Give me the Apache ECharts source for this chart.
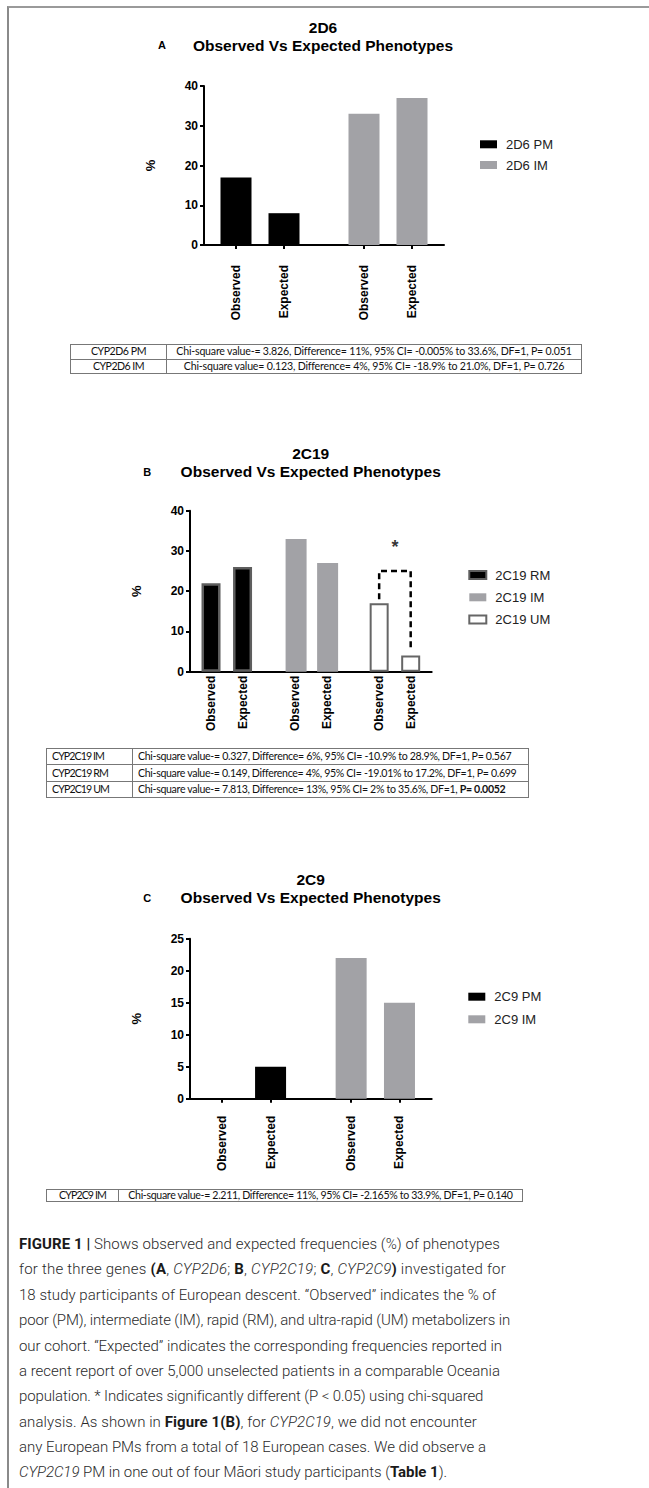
<!DOCTYPE html>
<html>
<head>
<meta charset="utf-8">
<script src="https://cdn.jsdelivr.net/npm/echarts@6/dist/echarts.min.js"></script>
<style>
  html, body { margin: 0; padding: 0; background: #fff; }
  #page { position: relative; width: 649px; height: 1488px; overflow: hidden; }
  #chart { position: absolute; left: 0; top: 0; width: 649px; height: 1230px; }
  #frame { position: absolute; left: 7px; top: 6px; width: 650px; height: 1490px;
           border-top: 2px solid #9a9a9a; border-left: 2px solid #8a8a8a; }
  table.stat { position: absolute; border-collapse: collapse; table-layout: fixed;
               font-family: Lato, "Open Sans", sans-serif; font-size: 10.6px; color: #111; }
  table.stat td { border: 1px solid #777; padding: 0; white-space: nowrap; line-height: 1; overflow: hidden; }
  #tA { left: 70px; top: 344px; width: 512px; }
  #tA td { height: 13.5px; text-align: center; }
  #tB { left: 46px; top: 748px; width: 483px; }
  #tB td { height: 15.3px; text-align: left; padding-left: 5px; }
  #tC { left: 46px; top: 1189px; width: 477px; }
  #tC td { height: 11px; text-align: center; }
  #caption { position: absolute; left: 19px; top: 1232px; width: 630px;
             font-family: Roboto, "Noto Sans", sans-serif; font-weight: 300; font-size: 15px;
             line-height: 25.37px; color: #2a2a2a; white-space: nowrap; }
  #caption b { font-weight: 700; color: #1a1a1a; }
</style>
</head>
<body>
<div id="page">
  <div id="frame"></div>
  <div id="chart"></div>

  <table class="stat" id="tA">
    <colgroup><col style="width:96px"><col></colgroup>
    <tr><td><span class="fit" data-w="55">CYP2D6 PM</span></td><td><span class="fit" data-w="395">Chi-square value-= 3.826, Difference= 11%, 95% CI= -0.005% to 33.6%, DF=1, P= 0.051</span></td></tr>
    <tr><td><span class="fit" data-w="51">CYP2D6 IM</span></td><td><span class="fit" data-w="380">Chi-square value= 0.123, Difference= 4%, 95% CI= -18.9% to 21.0%, DF=1, P= 0.726</span></td></tr>
  </table>

  <table class="stat" id="tB">
    <colgroup><col style="width:86px"><col></colgroup>
    <tr><td><span class="fit" data-w="52">CYP2C19 IM</span></td><td><span class="fit" data-w="373">Chi-square value-= 0.327, Difference= 6%, 95% CI= -10.9% to 28.9%, DF=1, P= 0.567</span></td></tr>
    <tr><td><span class="fit" data-w="56">CYP2C19 RM</span></td><td><span class="fit" data-w="378">Chi-square value-= 0.149, Difference= 4%, 95% CI= -19.01% to 17.2%, DF=1, P= 0.699</span></td></tr>
    <tr><td><span class="fit" data-w="57">CYP2C19 UM</span></td><td><span class="fit" data-w="367">Chi-square value-= 7.813, Difference= 13%, 95% CI= 2% to 35.6%, DF=1, <b>P= 0.0052</b></span></td></tr>
  </table>

  <table class="stat" id="tC">
    <colgroup><col style="width:72px"><col></colgroup>
    <tr><td><span class="fit" data-w="47">CYP2C9 IM</span></td><td><span class="fit" data-w="384">Chi-square value-= 2.211, Difference= 11%, 95% CI= -2.165% to 33.9%, DF=1, P= 0.140</span></td></tr>
  </table>

  <div id="caption"><span class="fit" data-w="481"><b>FIGURE 1 |</b> Shows observed and expected frequencies (%) of phenotypes</span><br><span class="fit" data-w="487">for the three genes <b>(A</b>, <i>CYP2D6</i>; <b>B</b>, <i>CYP2C19</i>; <b>C</b>, <i>CYP2C9</i><b>)</b> investigated for</span><br><span class="fit" data-w="477">18 study participants of European descent. “Observed” indicates the % of</span><br><span class="fit" data-w="491">poor (PM), intermediate (IM), rapid (RM), and ultra-rapid (UM) metabolizers in</span><br><span class="fit" data-w="483">our cohort. “Expected” indicates the corresponding frequencies reported in</span><br><span class="fit" data-w="481">a recent report of over 5,000 unselected patients in a comparable Oceania</span><br><span class="fit" data-w="464">population. * Indicates significantly different (P &lt; 0.05) using chi-squared</span><br><span class="fit" data-w="458">analysis. As shown in <b>Figure 1(B)</b>, for <i>CYP2C19</i>, we did not encounter</span><br><span class="fit" data-w="467">any European PMs from a total of 18 European cases. We did observe a</span><br><span class="fit" data-w="428"><i>CYP2C19</i> PM in one out of four Māori study participants (<b>Table 1</b>).</span></div>
</div>

<script>
// 数据
const tickNames = ['Observed', 'Expected', 'Observed', 'Expected'];
const tickNamesB = ['Observed', 'Expected', 'Observed', 'Expected', 'Observed', 'Expected'];
const slotsA = [0, 3, 8, 11];          // bar slots on the x scale
const slotsB = [0, 3, 8, 11, 16, 19];
const a_pm = [17, 8];
const a_im = [33, 37];
const b_rm = [22, 26];
const b_im = [33, 27];
const b_um = [17, 4];
const c_pm = [0, 5];
const c_im = [22, 15];
const bracketB = [[16, 18], [16, 25], [19, 25], [19, 5.5]];
const starB = [[17.5, 31]];

const FONT = '"Liberation Sans", Arial, sans-serif';
const BLACK = '#000';
const GREY = '#a2a2a6';

function pairs(xs, ys) {
  return ys.map((v, i) => [xs[i], v]);
}

function xAxisFor(idx, min, max, slots, names, margin, ticks) {
  return {
    type: 'value', gridIndex: idx, min: min, max: max,
    splitLine: { show: false },
    axisLine: { onZero: false, lineStyle: { color: BLACK, width: 2 } },
    axisTick: { show: ticks, customValues: slots, length: 4, lineStyle: { color: BLACK, width: 2 } },
    axisLabel: {
      customValues: slots, rotate: 90, margin: margin,
      fontFamily: FONT, fontWeight: 'bold', fontSize: 12, color: BLACK,
      formatter: v => names[slots.indexOf(v)] || ''
    }
  };
}

function yAxisFor(idx, max, interval) {
  return {
    type: 'value', gridIndex: idx, min: 0, max: max, interval: interval,
    name: '%', nameLocation: 'middle', nameGap: 47,
    nameTextStyle: { fontFamily: FONT, fontWeight: 'bold', fontSize: 13, color: BLACK },
    splitLine: { show: false },
    axisLine: { show: true, onZero: false, lineStyle: { color: BLACK, width: 2 } },
    axisTick: { show: true, length: 4, lineStyle: { color: BLACK, width: 2 } },
    axisLabel: { margin: 6, fontFamily: FONT, fontWeight: 'bold', fontSize: 12, color: BLACK }
  };
}

function titleText(x, y, text, size) {
  return {
    type: 'text', x: x, y: y,
    style: { text: text, align: 'center', verticalAlign: 'middle',
             fontFamily: FONT, fontWeight: 'bold', fontSize: size, fill: BLACK }
  };
}

function legendFor(names, left, top, gap) {
  return {
    data: names, orient: 'vertical', left: left, top: top, padding: 0,
    itemWidth: 17, itemHeight: 8, itemGap: gap, icon: 'rect',
    selectedMode: false,
    textStyle: { fontFamily: FONT, fontSize: 13, color: '#222', lineHeight: 14, padding: [0, 0, 0, 4] }
  };
}

let myChart = echarts.init(document.getElementById('chart'), null, { renderer: 'svg' });

myChart.setOption({
  animation: false,
  grid: [
    { left: 204, top: 86, width: 240, height: 159 },
    { left: 190, top: 510.7, width: 241.7, height: 161 },
    { left: 190, top: 938.7, width: 241.7, height: 160 }
  ],
  xAxis: [
    xAxisFor(0, -2, 13, slotsA, tickNames, 20, true),
    xAxisFor(1, -2, 21, slotsB, tickNamesB, 4, false),
    xAxisFor(2, -2, 13, slotsA, tickNames, 17, true)
  ],
  yAxis: [
    yAxisFor(0, 40, 10),
    yAxisFor(1, 40, 10),
    yAxisFor(2, 25, 5)
  ],
  legend: [
    legendFor(['2D6 PM', '2D6 IM'], 480, 137.3, 6.7),
    legendFor(['2C19 RM', '2C19 IM', '2C19 UM'], 468.3, 568, 8.3),
    legendFor(['2C9 PM', '2C9 IM'], 468.3, 989.7, 8.6)
  ],
  graphic: [
    titleText(323, 27, '2D6', 15.5),
    titleText(323, 45, 'Observed Vs Expected Phenotypes', 15.5),
    titleText(162, 45, 'A', 11),
    titleText(310.7, 453.3, '2C19', 15.5),
    titleText(310.7, 471.7, 'Observed Vs Expected Phenotypes', 15.5),
    titleText(147.3, 471.7, 'B', 11),
    titleText(310.7, 879.3, '2C9', 15.5),
    titleText(310.7, 897.7, 'Observed Vs Expected Phenotypes', 15.5),
    titleText(147.3, 897.7, 'C', 11)
  ],
  series: [
    { name: '2D6 PM', type: 'bar', xAxisIndex: 0, yAxisIndex: 0, barWidth: 31, barGap: '-100%',
      itemStyle: { color: BLACK }, data: pairs(slotsA.slice(0, 2), a_pm) },
    { name: '2D6 IM', type: 'bar', xAxisIndex: 0, yAxisIndex: 0, barWidth: 31, barGap: '-100%',
      itemStyle: { color: GREY }, data: pairs(slotsA.slice(2, 4), a_im) },

    { name: '2C19 RM', type: 'bar', xAxisIndex: 1, yAxisIndex: 1, barWidth: 19, barGap: '-100%',
      itemStyle: { color: BLACK, borderColor: '#5e5e5e', borderWidth: 2.5 }, data: pairs(slotsB.slice(0, 2), b_rm) },
    { name: '2C19 IM', type: 'bar', xAxisIndex: 1, yAxisIndex: 1, barWidth: 21, barGap: '-100%',
      itemStyle: { color: GREY }, data: pairs(slotsB.slice(2, 4), b_im) },
    { name: '2C19 UM', type: 'bar', xAxisIndex: 1, yAxisIndex: 1, barWidth: 19, barGap: '-100%',
      itemStyle: { color: '#fff', borderColor: '#666', borderWidth: 2 }, data: pairs(slotsB.slice(4, 6), b_um) },
    { name: 'bracket', type: 'line', xAxisIndex: 1, yAxisIndex: 1, symbol: 'none', silent: true,
      lineStyle: { color: BLACK, width: 2.5, type: [6, 4] }, data: bracketB },
    { name: 'star', type: 'scatter', xAxisIndex: 1, yAxisIndex: 1, symbolSize: 0, silent: true,
      label: { show: true, position: 'inside', formatter: '*', fontFamily: FONT, fontWeight: 'bold', fontSize: 18, color: BLACK },
      data: starB },

    { name: '2C9 PM', type: 'bar', xAxisIndex: 2, yAxisIndex: 2, barWidth: 31, barGap: '-100%',
      itemStyle: { color: BLACK }, data: pairs(slotsA.slice(0, 2), c_pm) },
    { name: '2C9 IM', type: 'bar', xAxisIndex: 2, yAxisIndex: 2, barWidth: 31, barGap: '-100%',
      itemStyle: { color: GREY }, data: pairs(slotsA.slice(2, 4), c_im) }
  ]
});

// text lines: stretch each one to the width it has in the figure
document.querySelectorAll('.fit').forEach(function (el) {
  let target = parseFloat(el.dataset.w);
  let w = el.getBoundingClientRect().width;
  let n = el.textContent.length;
  if (n > 0) el.style.letterSpacing = ((target - w) / n).toFixed(3) + 'px';
});
</script>
</body>
</html>
